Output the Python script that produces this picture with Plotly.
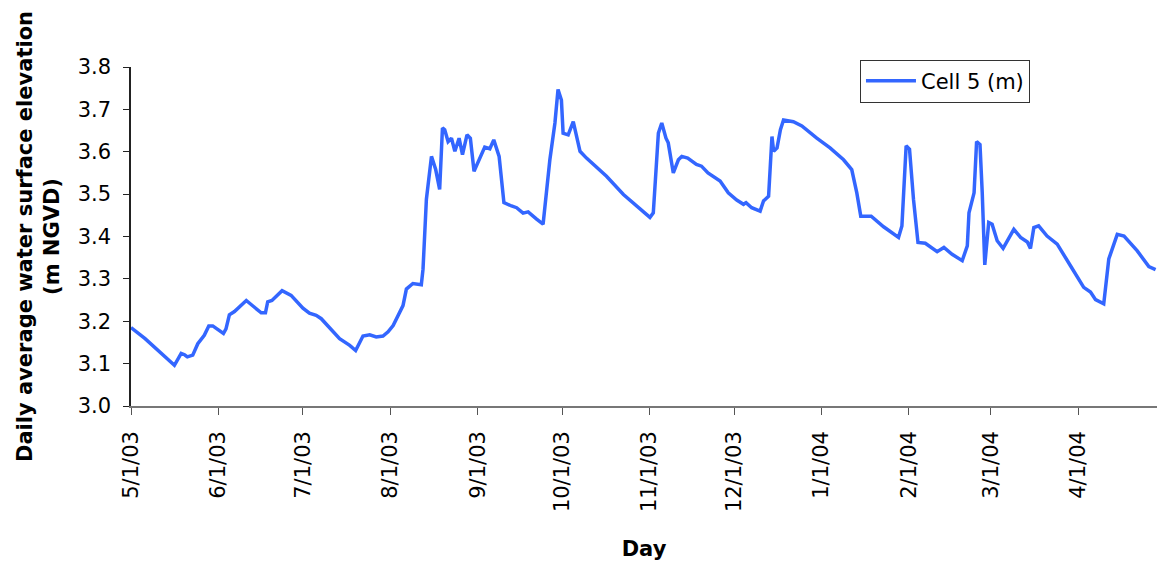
import pandas as pd
import plotly.graph_objects as go

start_date = "2003-05-01"
# days since 5/1/03 and daily average elevation (m NGVD)
day_offset = [0, 5, 15.4, 17.8, 19, 20, 21.9, 23.7, 26, 27.6, 29, 32.8, 33.7, 34.9, 36.7, 39, 40.9,
              43.8, 46.2, 47.7, 48.5, 50, 53.6, 56.8, 61, 63.3, 65.7, 67.5, 74, 77.6, 79.7, 82.3,
              84.7, 87, 89.4, 91.2, 93, 96.5, 97.7, 100, 103, 103.6, 104.8, 106.6, 108.1, 109.5,
              110.5, 111.3, 112.5, 113.7, 114.9, 116.4, 117.6, 119.2, 120.4, 121.7, 123.1, 125.5,
              127.3, 128.7, 130.6, 132.3, 135, 136.8, 139.1, 140.9, 143.9, 146.2, 148.6, 150.4,
              151.5, 152.7, 153.3, 155.1, 156.9, 159.3, 161.6, 168.7, 174.7, 180.6, 184.1, 185.3,
              187.1, 188.3, 189.8, 190.6, 192.4, 194.2, 195.4, 197.5, 200.6, 202.4, 204.7, 209,
              211.9, 214.9, 217.3, 218.2, 220.2, 223.2, 224.4, 226.2, 227.4, 228, 229.2, 230.4,
              231.5, 235, 238, 243.3, 248, 252.8, 255.7, 257.5, 258.9, 262.6, 267, 272.3, 273.5,
              275, 276.2, 277.6, 279.2, 281.8, 286, 288.4, 291.3, 294.9, 296.7, 297.3, 299.1, 300,
              301.2, 302, 302.9, 304.3, 305.5, 307.3, 309.4, 313.2, 315.6, 318, 319.1, 320.3, 322,
              325, 328.6, 333.3, 338, 340.4, 342.2, 345.1, 346.9, 349.9, 352.3, 357, 361.1, 363.5]
elevation = [3.185, 3.159, 3.096, 3.124, 3.121, 3.116, 3.12, 3.147, 3.167, 3.189, 3.189, 3.171, 3.182,
             3.215, 3.223, 3.237, 3.249, 3.233, 3.22, 3.22, 3.246, 3.249, 3.272, 3.261, 3.231, 3.219,
             3.214, 3.206, 3.159, 3.143, 3.131, 3.165, 3.168, 3.163, 3.165, 3.175, 3.19, 3.237, 3.276,
             3.289, 3.286, 3.323, 3.488, 3.589, 3.558, 3.511, 3.656, 3.652, 3.624, 3.632, 3.601, 3.632,
             3.593, 3.64, 3.632, 3.554, 3.577, 3.611, 3.607, 3.628, 3.589, 3.48, 3.472, 3.468, 3.455,
             3.458, 3.441, 3.429, 3.581, 3.668, 3.747, 3.722, 3.644, 3.64, 3.671, 3.601, 3.585, 3.542,
             3.499, 3.464, 3.445, 3.456, 3.644, 3.668, 3.632, 3.621, 3.55, 3.581, 3.589, 3.585, 3.57,
             3.566, 3.55, 3.531, 3.503, 3.486, 3.476, 3.48, 3.468, 3.46, 3.484, 3.495, 3.636, 3.601,
             3.609, 3.652, 3.675, 3.671, 3.661, 3.632, 3.609, 3.581, 3.558, 3.503, 3.448, 3.448, 3.423,
             3.398, 3.425, 3.614, 3.606, 3.488, 3.386, 3.384, 3.364, 3.374, 3.358, 3.343, 3.378, 3.456,
             3.503, 3.624, 3.617, 3.503, 3.333, 3.433, 3.429, 3.39, 3.372, 3.417, 3.398, 3.387, 3.372,
             3.421, 3.425, 3.401, 3.382, 3.331, 3.28, 3.269, 3.251, 3.241, 3.347, 3.405, 3.401, 3.366,
             3.329, 3.322]

tick_dates = ["2003-05-01", "2003-06-01", "2003-07-01", "2003-08-01", "2003-09-01", "2003-10-01",
              "2003-11-01", "2003-12-01", "2004-01-01", "2004-02-01", "2004-03-01", "2004-04-01"]
tick_labels = ["5/1/03", "6/1/03", "7/1/03", "8/1/03", "9/1/03", "10/1/03",
               "11/1/03", "12/1/03", "1/1/04", "2/1/04", "3/1/04", "4/1/04"]
y_ticks = [3.0, 3.1, 3.2, 3.3, 3.4, 3.5, 3.6, 3.7, 3.8]

dates = pd.Timestamp(start_date) + pd.to_timedelta(day_offset, unit="D")

font_family = "DejaVu Sans, Verdana, sans-serif"

fig = go.Figure()
fig.add_trace(go.Scatter(
    x=dates, y=elevation, mode="lines", name="Cell 5 (m)",
    line=dict(color="#3366FF", width=3.5),
))

fig.update_layout(
    width=1164, height=564,
    margin=dict(l=131, r=7, t=67, b=156),
    paper_bgcolor="white", plot_bgcolor="white",
    font=dict(family=font_family, size=21, color="black"),
    showlegend=True,
    legend=dict(
        x=0.7105, y=1.022, xanchor="left", yanchor="top",
        bgcolor="white", bordercolor="#333333", borderwidth=1,
        font=dict(family=font_family, size=21, color="black"),
        itemwidth=50, tracegroupgap=0,
        entrywidth=176, entrywidthmode="pixels",
    ),
    xaxis=dict(
        type="date",
        range=["2003-05-01", "2004-04-29"],
        tickmode="array", tickvals=tick_dates, ticktext=tick_labels,
        tickangle=-90,
        ticks="outside", ticklen=7, tickcolor="#555555",
        showline=True, linecolor="#777777", linewidth=1.5,
        showgrid=False, zeroline=False,
        tickfont=dict(size=21),
        ticklabelstandoff=8,
        title=dict(text="Day", font=dict(size=21, weight="bold"), standoff=30),
    ),
    yaxis=dict(
        range=[3.0, 3.8],
        tickmode="array", tickvals=y_ticks, ticktext=[f"{v:.1f}" for v in y_ticks],
        ticks="outside", ticklen=6, tickcolor="#222222",
        showline=True, linecolor="#222222", linewidth=1.5,
        showgrid=False, zeroline=False,
        tickfont=dict(size=21),
        ticklabelstandoff=8,
        title=dict(text="Daily average water surface elevation<br>(m NGVD)",
                   font=dict(size=21, weight="bold"), standoff=12),
    ),
)

fig.write_html("out.html", config={"displayModeBar": False},
               post_script="document.body.style.margin='0px';")
